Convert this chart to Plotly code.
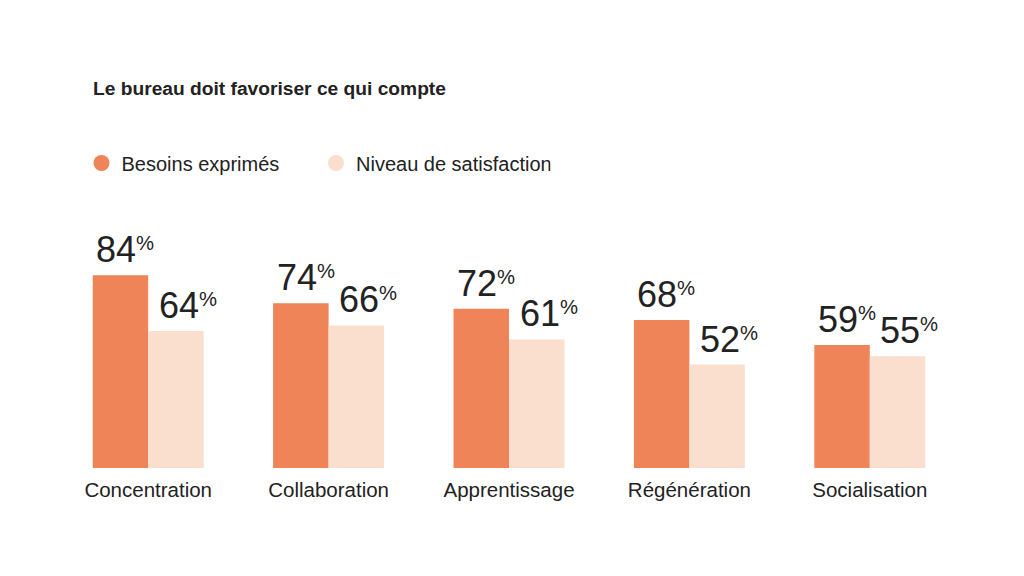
import plotly.graph_objects as go

categories = ["Concentration", "Collaboration", "Apprentissage", "Régénération", "Socialisation"]
besoins = [84, 74, 72, 68, 59]
satisfaction = [64, 66, 61, 52, 55]
series_names = ["Besoins exprimés", "Niveau de satisfaction"]
title_text = "Le bureau doit favoriser ce qui compte"

ORANGE = "#EE8457"
LIGHT = "#FADFCE"
TEXT = "#222222"
FONT = "Liberation Sans, Arial, Helvetica, sans-serif"

BAR_PX = 55.5  # pixel width of one bar (for label offset)


def label(v):
    return f'{v}<span style="font-size:29px"><sup>%</sup></span>'


fig = go.Figure()
for name, vals, col in [(series_names[0], besoins, ORANGE), (series_names[1], satisfaction, LIGHT)]:
    fig.add_trace(go.Bar(
        x=categories, y=vals, name=name, marker=dict(color=col, line=dict(width=0)),
        showlegend=False, hoverinfo="skip",
    ))
# value labels, left-aligned near the left edge of each bar
for vals, xs in [(besoins, -BAR_PX + 1.5), (satisfaction, 8.5)]:
    for cat, v in zip(categories, vals):
        fig.add_annotation(
            x=cat, y=v, xref="x", yref="y", text=label(v), showarrow=False,
            xanchor="left", yanchor="bottom", xshift=xs, yshift=3,
            font=dict(size=36, color=TEXT, family=FONT),
        )
# legend entries with circular symbols
for name, col in [(series_names[0], ORANGE), (series_names[1], LIGHT)]:
    fig.add_trace(go.Scatter(
        x=[None], y=[None], mode="markers", name=name,
        marker=dict(symbol="circle", size=20, color=col), showlegend=True,
    ))

fig.update_layout(
    width=1024, height=576,
    paper_bgcolor="white", plot_bgcolor="white",
    margin=dict(l=58, r=64, t=200, b=108),
    barmode="group", bargap=0.385, bargroupgap=0,
    font=dict(family=FONT, color=TEXT),
    title=dict(text=f"<b>{title_text}</b>", x=93 / 1024, xanchor="left", xref="container",
               y=1 - 88 / 576, yanchor="middle", yref="container",
               font=dict(size=19.2, color=TEXT, family=FONT)),
    legend=dict(orientation="h", x=81.5 / 1024, xanchor="left", xref="container",
                y=1 - 163 / 576, yanchor="middle", yref="container",
                font=dict(size=20, color=TEXT, family=FONT),
                itemsizing="trace", entrywidth=189.5, entrywidthmode="pixels",
                bgcolor="rgba(0,0,0,0)"),
    xaxis=dict(showgrid=False, showline=False, zeroline=False, ticks="",
               tickfont=dict(size=20.5, color=TEXT, family=FONT), ticklabelstandoff=7,
               range=[-0.5, 4.5]),
    yaxis=dict(visible=False, range=[14.9, 111.0], showgrid=False, zeroline=False),
)

fig.write_html("out.html")
